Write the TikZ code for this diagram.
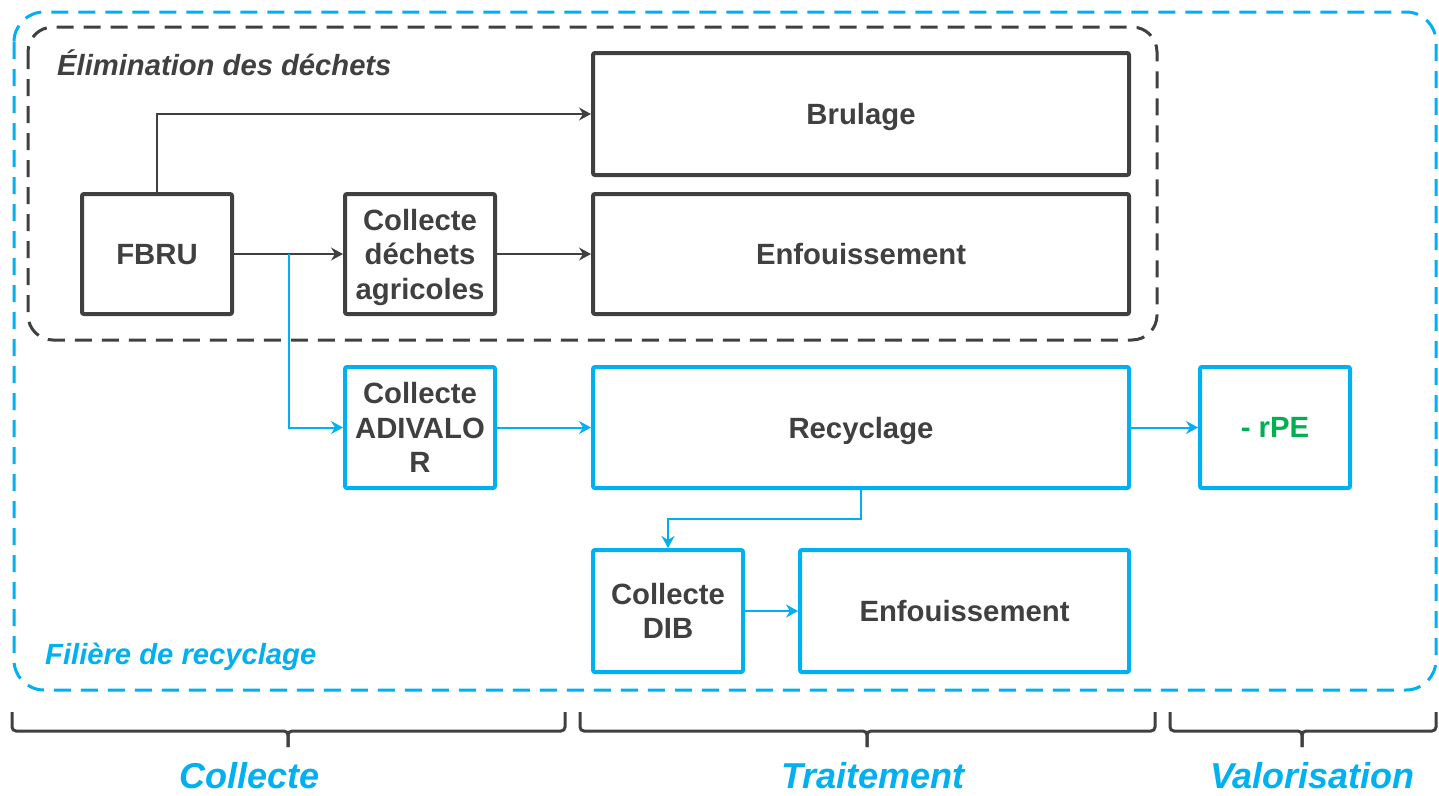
\documentclass[tikz,border=0pt]{standalone}
\usepackage{fontspec}
\setmainfont{Liberation Sans}
\usetikzlibrary{arrows.meta}
\definecolor{dk}{HTML}{404040}
\definecolor{bl}{HTML}{00B0F0}
\definecolor{gr}{HTML}{00B050}
\begin{document}
\begin{tikzpicture}[x=1pt,y=-1pt,
  box/.style={draw=dk, line width=4pt, rounded corners=2pt, inner sep=0pt, align=center,
    font=\fontsize{29.3}{34.5}\selectfont\bfseries, text=dk, text depth=0pt},
  bbox/.style={box, draw=bl},
  arr/.style={-{Stealth[length=12pt,width=13pt,inset=4pt]}, line width=1.5pt, draw=dk},
  barr/.style={arr, draw=bl, line width=2pt},
  brace/.style={draw=dk, line width=3pt, rounded corners=4pt},
  grp/.style={line width=3pt, dash pattern=on 17pt off 10pt},
  bottomlbl/.style={font=\fontsize{36}{40}\selectfont\bfseries\itshape, text=bl, inner sep=0pt, text depth=0pt},
  grplbl/.style={anchor=west, inner sep=0pt, text depth=0pt, font=\fontsize{29.2}{32}\selectfont\bfseries\itshape}]
\useasboundingbox (0,0) rectangle (1439,795);
% group frames
\draw[grp, draw=bl, rounded corners=30pt] (14,12) rectangle (1436,690);
\draw[grp, draw=dk, rounded corners=25pt] (28,27) rectangle (1157,340);
\node[grplbl, text=dk] (tElim) at (57,63) {Élimination des déchets};
\node[grplbl, text=bl] (tFil) at (45,654) {Filière de recyclage};
% boxes
\node[box, minimum width=536pt, minimum height=122pt] (brul) at (861,114) {Brulage};
\node[box, minimum width=150pt, minimum height=120pt] (fbru) at (157,254) {FBRU};
\node[box, minimum width=150pt, minimum height=120pt] (cda) at (420,254) {Collecte\\déchets\\agricoles};
\node[box, minimum width=536pt, minimum height=120pt] (enf1) at (861,254) {Enfouissement};
\node[bbox, minimum width=150pt, minimum height=121pt] (adiv) at (420,427.5) {Collecte\\ADIVALO\\R};
\node[bbox, minimum width=536pt, minimum height=121pt] (rec) at (861,427.5) {Recyclage};
\node[bbox, minimum width=150pt, minimum height=121pt, text=gr] (rpe) at (1275,427.5) {- rPE};
\node[bbox, minimum width=150pt, minimum height=122pt] (dib) at (668,611) {Collecte\\DIB};
\node[bbox, minimum width=329pt, minimum height=122pt] (enf2) at (964.5,611) {Enfouissement};
% connectors
\draw[arr] (fbru.north) |- (brul.west);
\draw[arr] (fbru.east) -- (cda.west);
\draw[arr] (cda.east) -- (enf1.west);
\coordinate (split) at (289,254);
\draw[barr] (split) |- (adiv.west);
\draw[barr] (adiv.east) -- (rec.west);
\draw[barr] (rec.east) -- (rpe.west);
\draw[barr] (rec.south) -- ++(0,29) -| (dib.north);
\draw[barr] (dib.east) -- (enf2.west);
% braces
\coordinate (b1t) at (288,747);
\coordinate (b2t) at (867,747);
\coordinate (b3t) at (1302,747);
\draw[brace] (12,712) -- (12,731) -- (b1t |- 0,731) -- (b1t);
\draw[brace] (565,712) -- (565,731) -- (b1t |- 0,731) -- (b1t);
\draw[brace] (580,712) -- (580,731) -- (b2t |- 0,731) -- (b2t);
\draw[brace] (1155,712) -- (1155,731) -- (b2t |- 0,731) -- (b2t);
\draw[brace] (1170,712) -- (1170,731) -- (b3t |- 0,731) -- (b3t);
\draw[brace] (1436,712) -- (1436,731) -- (b3t |- 0,731) -- (b3t);
\node[bottomlbl] (lc) at (249.5,775) {Collecte};
\node[bottomlbl] (lt) at (873,775) {Traitement};
\node[bottomlbl] (lv) at (1312.5,775) {Valorisation};
\end{tikzpicture}
\end{document}
